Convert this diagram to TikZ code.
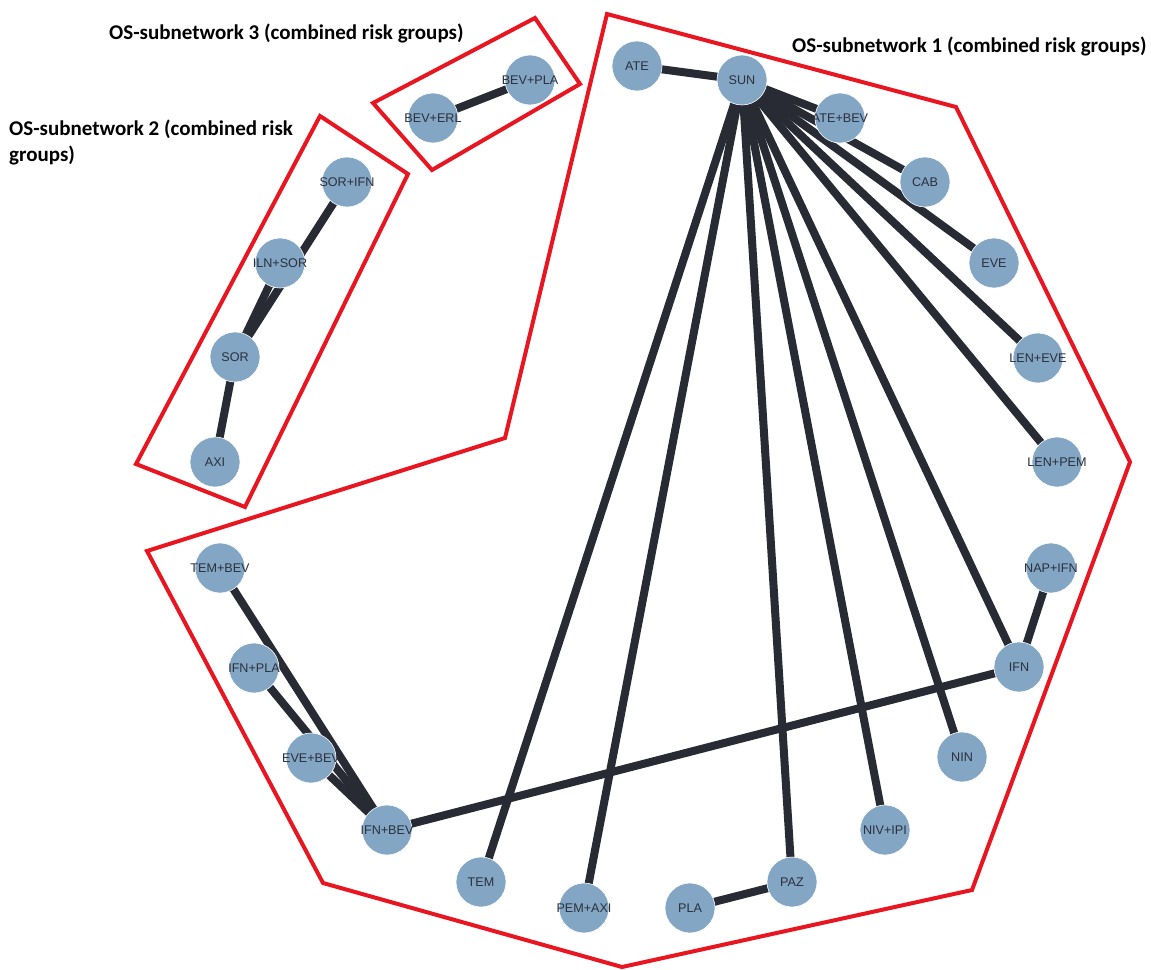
\documentclass[tikz,border=0pt]{standalone}
\usepackage{fontspec}
\setmainfont{Liberation Sans}
\newfontfamily\titlefont{Carlito}
\pgfdeclarelayer{bg}
\pgfdeclarelayer{paper}
\pgfsetlayers{paper,bg,main}
\definecolor{nodefill}{RGB}{130,166,196}
\definecolor{edgecol}{RGB}{40,42,52}
\definecolor{hullred}{RGB}{232,22,32}
\definecolor{labelcol}{RGB}{44,48,60}
\newcommand\genetext[1]{\makebox[0pt]{#1}}
\tikzset{
  gene/.style={circle, fill=nodefill, draw=white, line width=0.6pt,
    minimum size=50pt, inner sep=0pt, text=labelcol,
    font=\fontsize{12.6}{12.6}\selectfont},
  edge/.style={draw=edgecol, line width=8pt},
  hull/.style={draw=hullred, line width=4pt, line join=miter},
  title/.style={font=\titlefont\bfseries\fontsize{21}{26}\selectfont,
    text=black, inner sep=0pt}
}
\begin{document}
\begin{tikzpicture}[x=1pt,y=-1pt]
\useasboundingbox (0,0) rectangle (1151,969);
\begin{pgfonlayer}{paper}
\fill[white] (0,0) rectangle (1151,969);
\end{pgfonlayer}

% cluster hulls
\draw[hull] (607,14) -- (956,107) -- (1130,462) -- (972,890) -- (622,967)
  -- (323,883) -- (147,551) -- (505,438) -- cycle;
\draw[hull] (320,116) -- (408,174) -- (245,507) -- (136,464) -- cycle;
\draw[hull] (373,103) -- (535,18) -- (580,84) -- (432,170) -- cycle;

% titles
\node[title, anchor=west] (t3) at (109,33) {OS-subnetwork 3 (combined risk groups)};
\node[title, anchor=north west, align=left] (t2) at (9,120)
  {OS-subnetwork 2 (combined risk\\groups)};
\node[title, anchor=west] (t1) at (792,46) {OS-subnetwork 1 (combined risk groups)};

% genes / combinations
\node[gene] (ATE)    at (637,66)  {\genetext{ATE}};
\node[gene] (SUN)    at (742,80)  {\genetext{SUN}};
\node[gene] (ATEBEV) at (840,118) {\genetext{ATE+BEV}};
\node[gene] (CAB)    at (925,182) {\genetext{CAB}};
\node[gene] (EVE)    at (994,263) {\genetext{EVE}};
\node[gene] (LENEVE) at (1038,358) {\genetext{LEN+EVE}};
\node[gene] (LENPEM) at (1057,462) {\genetext{LEN+PEM}};
\node[gene] (NAPIFN) at (1051,568) {\genetext{NAP+IFN}};
\node[gene] (IFN)    at (1019,667) {\genetext{IFN}};
\node[gene] (NIN)    at (962,757) {\genetext{NIN}};
\node[gene] (NIVIPI) at (885,830) {\genetext{NIV+IPI}};
\node[gene] (PAZ)    at (792,882) {\genetext{PAZ}};
\node[gene] (PLA)    at (690,908) {\genetext{PLA}};
\node[gene] (PEMAXI) at (584,908) {\genetext{PEM+AXI}};
\node[gene] (TEM)    at (481,882) {\genetext{TEM}};
\node[gene] (IFNBEV) at (387,830) {\genetext{IFN+BEV}};
\node[gene] (EVEBEV) at (311,758) {\genetext{EVE+BEV}};
\node[gene] (IFNPLA) at (254,668) {\genetext{IFN+PLA}};
\node[gene] (TEMBEV) at (220,568) {\genetext{TEM+BEV}};
\node[gene] (AXI)    at (215,462) {\genetext{AXI}};
\node[gene] (SOR)    at (235,357) {\genetext{SOR}};
\node[gene] (ILNSOR) at (280,263) {\genetext{ILN+SOR}};
\node[gene] (SORIFN) at (347,182) {\genetext{SOR+IFN}};
\node[gene] (BEVERL) at (433,118) {\genetext{BEV+ERL}};
\node[gene] (BEVPLA) at (530,80)  {\genetext{BEV+PLA}};

% interactions, drawn beneath the nodes
\begin{pgfonlayer}{bg}
\foreach \t in {ATE,ATEBEV,CAB,EVE,LENEVE,LENPEM,IFN,NIN,NIVIPI,PAZ,PEMAXI,TEM}
  \draw[edge] (SUN.center) -- (\t.center);
\draw[edge] (IFN.center) -- (NAPIFN.center);
\draw[edge] (IFN.center) -- (IFNBEV.center);
\draw[edge] (PLA.center) -- (PAZ.center);
\draw[edge] (TEMBEV.center) -- (IFNBEV.center);
\draw[edge] (IFNPLA.center) -- (IFNBEV.center);
\draw[edge] (EVEBEV.center) -- (IFNBEV.center);
\draw[edge] (SORIFN.center) -- (SOR.center);
\draw[edge] (ILNSOR.center) -- (SOR.center);
\draw[edge] (SOR.center) -- (AXI.center);
\draw[edge] (BEVERL.center) -- (BEVPLA.center);
\end{pgfonlayer}
\end{tikzpicture}
\end{document}
